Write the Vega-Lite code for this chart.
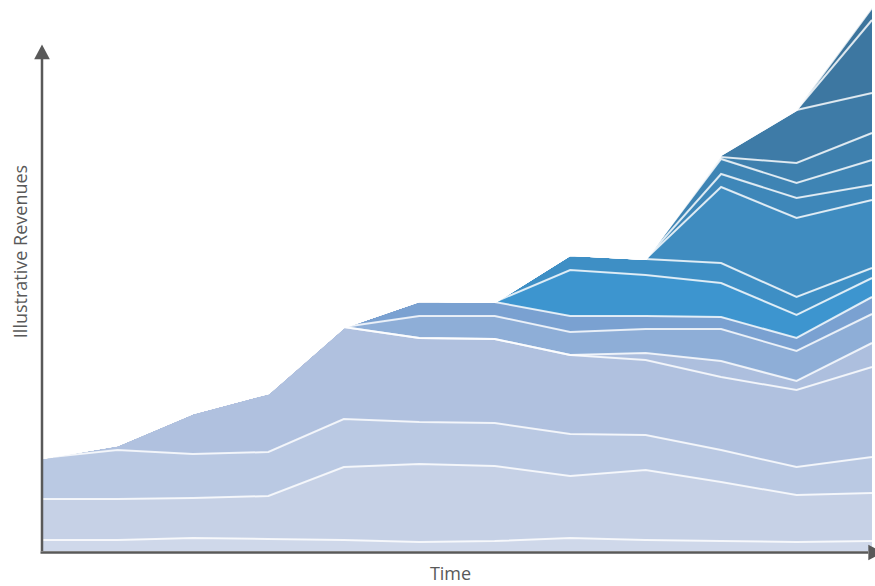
{
  "$schema": "https://vega.github.io/schema/vega-lite/v6.json",
  "width": 830,
  "height": 551,
  "autosize": "none",
  "padding": {"left": 42, "top": 0, "right": 3, "bottom": 35},
  "background": "white",
  "config": {
    "view": {"stroke": null},
    "axis": {"domain": false, "ticks": false, "labels": false, "grid": false, "titleFont": "Open Sans", "titleFontSize": 18, "titleFontWeight": "normal", "titleColor": "#595959"}
  },
  "data": {"values": [
    {"s":"s01","k":1,"t":0,"v":11},{"s":"s01","k":1,"t":1,"v":11},{"s":"s01","k":1,"t":2,"v":13},{"s":"s01","k":1,"t":3,"v":12},{"s":"s01","k":1,"t":4,"v":11},{"s":"s01","k":1,"t":5,"v":9},{"s":"s01","k":1,"t":6,"v":10},{"s":"s01","k":1,"t":7,"v":13},{"s":"s01","k":1,"t":8,"v":11},{"s":"s01","k":1,"t":9,"v":10},{"s":"s01","k":1,"t":10,"v":9},{"s":"s01","k":1,"t":11,"v":10},
    {"s":"s02","k":2,"t":0,"v":41},{"s":"s02","k":2,"t":1,"v":41},{"s":"s02","k":2,"t":2,"v":40},{"s":"s02","k":2,"t":3,"v":43},{"s":"s02","k":2,"t":4,"v":73},{"s":"s02","k":2,"t":5,"v":78},{"s":"s02","k":2,"t":6,"v":75},{"s":"s02","k":2,"t":7,"v":62},{"s":"s02","k":2,"t":8,"v":70},{"s":"s02","k":2,"t":9,"v":59},{"s":"s02","k":2,"t":10,"v":47},{"s":"s02","k":2,"t":11,"v":48},
    {"s":"s03","k":3,"t":0,"v":41},{"s":"s03","k":3,"t":1,"v":49},{"s":"s03","k":3,"t":2,"v":44},{"s":"s03","k":3,"t":3,"v":44},{"s":"s03","k":3,"t":4,"v":48},{"s":"s03","k":3,"t":5,"v":42},{"s":"s03","k":3,"t":6,"v":43},{"s":"s03","k":3,"t":7,"v":42},{"s":"s03","k":3,"t":8,"v":35},{"s":"s03","k":3,"t":9,"v":32},{"s":"s03","k":3,"t":10,"v":28},{"s":"s03","k":3,"t":11,"v":36},
    {"s":"s04","k":4,"t":0,"v":0},{"s":"s04","k":4,"t":1,"v":5},{"s":"s04","k":4,"t":2,"v":41},{"s":"s04","k":4,"t":3,"v":59},{"s":"s04","k":4,"t":4,"v":92},{"s":"s04","k":4,"t":5,"v":84},{"s":"s04","k":4,"t":6,"v":84},{"s":"s04","k":4,"t":7,"v":79},{"s":"s04","k":4,"t":8,"v":75},{"s":"s04","k":4,"t":9,"v":73},{"s":"s04","k":4,"t":10,"v":77},{"s":"s04","k":4,"t":11,"v":90},
    {"s":"s05","k":5,"t":0,"v":0},{"s":"s05","k":5,"t":1,"v":0},{"s":"s05","k":5,"t":2,"v":0},{"s":"s05","k":5,"t":3,"v":0},{"s":"s05","k":5,"t":4,"v":0},{"s":"s05","k":5,"t":5,"v":0},{"s":"s05","k":5,"t":6,"v":0},{"s":"s05","k":5,"t":7,"v":0},{"s":"s05","k":5,"t":8,"v":7},{"s":"s05","k":5,"t":9,"v":16},{"s":"s05","k":5,"t":10,"v":9},{"s":"s05","k":5,"t":11,"v":24},
    {"s":"s06","k":6,"t":0,"v":0},{"s":"s06","k":6,"t":1,"v":0},{"s":"s06","k":6,"t":2,"v":0},{"s":"s06","k":6,"t":3,"v":0},{"s":"s06","k":6,"t":4,"v":0},{"s":"s06","k":6,"t":5,"v":22},{"s":"s06","k":6,"t":6,"v":23},{"s":"s06","k":6,"t":7,"v":23},{"s":"s06","k":6,"t":8,"v":24},{"s":"s06","k":6,"t":9,"v":32},{"s":"s06","k":6,"t":10,"v":30},{"s":"s06","k":6,"t":11,"v":29},
    {"s":"s07","k":7,"t":0,"v":0},{"s":"s07","k":7,"t":1,"v":0},{"s":"s07","k":7,"t":2,"v":0},{"s":"s07","k":7,"t":3,"v":0},{"s":"s07","k":7,"t":4,"v":0},{"s":"s07","k":7,"t":5,"v":15},{"s":"s07","k":7,"t":6,"v":14},{"s":"s07","k":7,"t":7,"v":16},{"s":"s07","k":7,"t":8,"v":13},{"s":"s07","k":7,"t":9,"v":12},{"s":"s07","k":7,"t":10,"v":13},{"s":"s07","k":7,"t":11,"v":17},
    {"s":"s08","k":8,"t":0,"v":0},{"s":"s08","k":8,"t":1,"v":0},{"s":"s08","k":8,"t":2,"v":0},{"s":"s08","k":8,"t":3,"v":0},{"s":"s08","k":8,"t":4,"v":0},{"s":"s08","k":8,"t":5,"v":0},{"s":"s08","k":8,"t":6,"v":0},{"s":"s08","k":8,"t":7,"v":46},{"s":"s08","k":8,"t":8,"v":41},{"s":"s08","k":8,"t":9,"v":34},{"s":"s08","k":8,"t":10,"v":23},{"s":"s08","k":8,"t":11,"v":19},
    {"s":"s09","k":9,"t":0,"v":0},{"s":"s09","k":9,"t":1,"v":0},{"s":"s09","k":9,"t":2,"v":0},{"s":"s09","k":9,"t":3,"v":0},{"s":"s09","k":9,"t":4,"v":0},{"s":"s09","k":9,"t":5,"v":0},{"s":"s09","k":9,"t":6,"v":0},{"s":"s09","k":9,"t":7,"v":15},{"s":"s09","k":9,"t":8,"v":16},{"s":"s09","k":9,"t":9,"v":20},{"s":"s09","k":9,"t":10,"v":18},{"s":"s09","k":9,"t":11,"v":10},
    {"s":"s10","k":10,"t":0,"v":0},{"s":"s10","k":10,"t":1,"v":0},{"s":"s10","k":10,"t":2,"v":0},{"s":"s10","k":10,"t":3,"v":0},{"s":"s10","k":10,"t":4,"v":0},{"s":"s10","k":10,"t":5,"v":0},{"s":"s10","k":10,"t":6,"v":0},{"s":"s10","k":10,"t":7,"v":0},{"s":"s10","k":10,"t":8,"v":0},{"s":"s10","k":10,"t":9,"v":76},{"s":"s10","k":10,"t":10,"v":79},{"s":"s10","k":10,"t":11,"v":68},
    {"s":"s11","k":11,"t":0,"v":0},{"s":"s11","k":11,"t":1,"v":0},{"s":"s11","k":11,"t":2,"v":0},{"s":"s11","k":11,"t":3,"v":0},{"s":"s11","k":11,"t":4,"v":0},{"s":"s11","k":11,"t":5,"v":0},{"s":"s11","k":11,"t":6,"v":0},{"s":"s11","k":11,"t":7,"v":0},{"s":"s11","k":11,"t":8,"v":0},{"s":"s11","k":11,"t":9,"v":13},{"s":"s11","k":11,"t":10,"v":20},{"s":"s11","k":11,"t":11,"v":15},
    {"s":"s12","k":12,"t":0,"v":0},{"s":"s12","k":12,"t":1,"v":0},{"s":"s12","k":12,"t":2,"v":0},{"s":"s12","k":12,"t":3,"v":0},{"s":"s12","k":12,"t":4,"v":0},{"s":"s12","k":12,"t":5,"v":0},{"s":"s12","k":12,"t":6,"v":0},{"s":"s12","k":12,"t":7,"v":0},{"s":"s12","k":12,"t":8,"v":0},{"s":"s12","k":12,"t":9,"v":15},{"s":"s12","k":12,"t":10,"v":15},{"s":"s12","k":12,"t":11,"v":25},
    {"s":"s13","k":13,"t":0,"v":0},{"s":"s13","k":13,"t":1,"v":0},{"s":"s13","k":13,"t":2,"v":0},{"s":"s13","k":13,"t":3,"v":0},{"s":"s13","k":13,"t":4,"v":0},{"s":"s13","k":13,"t":5,"v":0},{"s":"s13","k":13,"t":6,"v":0},{"s":"s13","k":13,"t":7,"v":0},{"s":"s13","k":13,"t":8,"v":0},{"s":"s13","k":13,"t":9,"v":2},{"s":"s13","k":13,"t":10,"v":20},{"s":"s13","k":13,"t":11,"v":27},
    {"s":"s14","k":14,"t":0,"v":0},{"s":"s14","k":14,"t":1,"v":0},{"s":"s14","k":14,"t":2,"v":0},{"s":"s14","k":14,"t":3,"v":0},{"s":"s14","k":14,"t":4,"v":0},{"s":"s14","k":14,"t":5,"v":0},{"s":"s14","k":14,"t":6,"v":0},{"s":"s14","k":14,"t":7,"v":0},{"s":"s14","k":14,"t":8,"v":0},{"s":"s14","k":14,"t":9,"v":2},{"s":"s14","k":14,"t":10,"v":53},{"s":"s14","k":14,"t":11,"v":40},
    {"s":"s15","k":15,"t":0,"v":0},{"s":"s15","k":15,"t":1,"v":0},{"s":"s15","k":15,"t":2,"v":0},{"s":"s15","k":15,"t":3,"v":0},{"s":"s15","k":15,"t":4,"v":0},{"s":"s15","k":15,"t":5,"v":0},{"s":"s15","k":15,"t":6,"v":0},{"s":"s15","k":15,"t":7,"v":0},{"s":"s15","k":15,"t":8,"v":0},{"s":"s15","k":15,"t":9,"v":0},{"s":"s15","k":15,"t":10,"v":0},{"s":"s15","k":15,"t":11,"v":73},
    {"s":"s16","k":16,"t":0,"v":0},{"s":"s16","k":16,"t":1,"v":0},{"s":"s16","k":16,"t":2,"v":0},{"s":"s16","k":16,"t":3,"v":0},{"s":"s16","k":16,"t":4,"v":0},{"s":"s16","k":16,"t":5,"v":0},{"s":"s16","k":16,"t":6,"v":0},{"s":"s16","k":16,"t":7,"v":0},{"s":"s16","k":16,"t":8,"v":0},{"s":"s16","k":16,"t":9,"v":0},{"s":"s16","k":16,"t":10,"v":0},{"s":"s16","k":16,"t":11,"v":12}
  ]},
  "layer": [
    {
      "mark": {"type": "area", "interpolate": "linear", "opacity": 1},
      "encoding": {
        "x": {"field": "t", "type": "quantitative", "scale": {"domain": [0, 11], "nice": false, "zero": false}, "axis": {"title": "Time", "titlePadding": 14, "titleX": 408}},
        "y": {"field": "v", "type": "quantitative", "stack": "zero", "scale": {"domain": [0, 551], "nice": false}, "axis": {"title": "Illustrative Revenues", "titlePadding": 12, "titleY": 251}},
        "color": {"field": "s", "type": "nominal", "legend": null, "scale": {
          "domain": ["s01","s02","s03","s04","s05","s06","s07","s08","s09","s10","s11","s12","s13","s14","s15","s16"],
          "range": ["#cfd8ea","#c6d1e6","#bac9e3","#b0c1df","#adbfde","#8eaed7","#7aa1d1","#3d95cf","#3e8fc5","#3f8cc0","#3e87b9","#3e84b4","#3e80ae","#3e7ba7","#3d77a1","#3c749c"]}},
        "order": {"field": "k", "type": "quantitative"}
      }
    },
    {
      "mark": {"type": "line", "interpolate": "linear", "color": "white", "strokeWidth": 2, "strokeOpacity": 0.8},
      "encoding": {
        "x": {"field": "t", "type": "quantitative", "axis": {"title": "Time", "titlePadding": 14, "titleX": 408}},
        "y": {"field": "v", "type": "quantitative", "stack": "zero", "axis": {"title": "Illustrative Revenues", "titlePadding": 12, "titleY": 251}},
        "detail": {"field": "s", "type": "nominal"},
        "order": {"field": "k", "type": "quantitative"}
      }
    },
    {
      "data": {"values": [{}]},
      "mark": {"type": "rule", "color": "#595959", "strokeWidth": 2.5},
      "encoding": {
        "x": {"datum": 0, "type": "quantitative"},
        "y": {"datum": 0, "type": "quantitative"},
        "y2": {"datum": 493}
      }
    },
    {
      "data": {"values": [{}]},
      "mark": {"type": "rule", "color": "#595959", "strokeWidth": 2.5},
      "encoding": {
        "x": {"datum": -0.02, "type": "quantitative"},
        "x2": {"datum": 10.95},
        "y": {"datum": -1.5, "type": "quantitative"}
      }
    },
    {
      "data": {"values": [{}]},
      "mark": {"type": "point", "shape": "M0,-0.95L0.98,0.92L-0.98,0.92Z", "filled": true, "color": "#595959", "opacity": 1, "size": 256},
      "encoding": {
        "x": {"datum": 0, "type": "quantitative"},
        "y": {"datum": 499, "type": "quantitative"}
      }
    },
    {
      "data": {"values": [{}]},
      "mark": {"type": "point", "shape": "M-0.92,-0.98L0.95,0L-0.92,0.98Z", "filled": true, "color": "#595959", "opacity": 1, "size": 256},
      "encoding": {
        "x": {"datum": 11.049, "type": "quantitative"},
        "y": {"datum": -1.5, "type": "quantitative"}
      }
    }
  ]
}
